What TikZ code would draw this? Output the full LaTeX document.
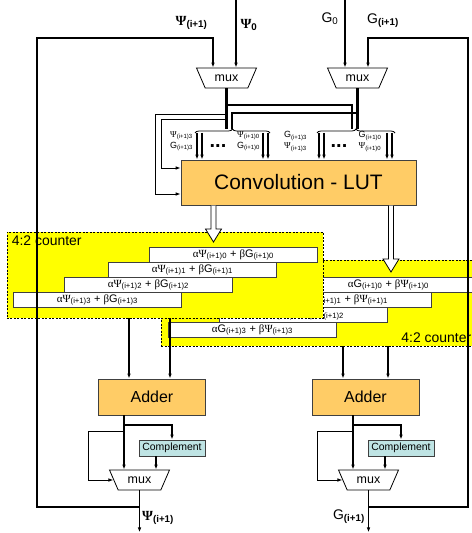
\documentclass[tikz,border=0pt]{standalone}
\usepackage{fontspec}
\setmainfont{Liberation Sans}
\newfontfamily\grk{Liberation Serif}
\usetikzlibrary{arrows.meta,shapes.geometric,decorations.pathreplacing}
\definecolor{lutorange}{HTML}{FFCC66}
\definecolor{cntyellow}{HTML}{FFFF00}
\definecolor{cmpteal}{HTML}{BFE4E4}
\definecolor{edgegray}{HTML}{404040}
\newcommand{\idx}[1]{\textsubscript{#1}}
\newcommand{\gPsi}{{\grk Ψ}}
\newcommand{\galpha}{{\grk α}}
\newcommand{\gbeta}{{\grk β}}
\newcommand{\psiterm}[1]{\galpha\gPsi\idx{(i+1)#1} + \gbeta G\idx{(i+1)#1}}
\newcommand{\gterm}[1]{\galpha G\idx{(i+1)#1} + \gbeta\gPsi\idx{(i+1)#1}}
\newcommand{\hollowarrow}[3]{\draw[fill=white, line width=0.8bp] ({#1-2.5},#2) -- ({#1-2.5},{#3-13}) -- ({#1-8},{#3-13}) -- (#1,#3) -- ({#1+8},{#3-13}) -- ({#1+2.5},{#3-13}) -- ({#1+2.5},#2);}
\newcommand{\outstage}[2]{%
	\node[adderbox] (#1add) at (#2,397) {Adder};
	\node[cmpbox] (#1cmp) at (172,448) {Complement};
	\node[muxbox] (#1outmux) at (139.5,480) {mux};
	\coordinate (#1tap) at (124,425);
	\coordinate (#1fb) at (88,431);
	\coordinate (#1cx) at (156,0);
	\coordinate (#1tee) at (139.5,507);
	\draw[wire,->] (#1add.south -| #1tap) -- (#1outmux.north -| #1tap);
	\draw[wire,->] (#1tap) -| (#1cmp.north);
	\draw[fb,->] (#1fb -| #1tap) -- (#1fb) |- (#1outmux.west);
	\draw[wire,->] (#1cmp.south -| #1cx) -- (#1outmux.north -| #1cx);
	\draw[wire,->] (#1outmux.south) -- ++(0,42) coordinate (#1end);
}
\tikzset{
	wire/.style={line width=1.1bp},
	fb/.style={line width=0.8bp},
	bus/.style={line width=2.6bp},
	box/.style={draw=edgegray, line width=0.8bp, inner sep=0pt},
	lutbox/.style={box, fill=lutorange, minimum width=235bp, minimum height=45bp, font=\fontsize{21}{24}\selectfont},
	adderbox/.style={box, fill=lutorange, minimum width=107bp, minimum height=36bp, font=\fontsize{16}{18}\selectfont},
	cmpbox/.style={box, fill=cmpteal, minimum width=66bp, minimum height=16bp, font=\fontsize{10.5}{12}\selectfont},
	muxbox/.style={trapezium, trapezium left angle=125, trapezium right angle=125, trapezium stretches=true, draw, line width=0.8bp, fill=white, minimum width=60bp, minimum height=20bp, inner sep=0pt, font=\fontsize{12.5}{14}\selectfont},
	cntbox/.style={draw, dashed, dash pattern=on 2bp off 1.5bp, line width=0.8bp, fill=cntyellow, minimum height=86bp},
	cntlabel/.style={inner sep=0pt, font=\fontsize{14}{16}\selectfont},
	termbox/.style={box, fill=white, minimum width=168bp, minimum height=15bp, font=\fontsize{11}{12}\selectfont},
	brlabel/.style={inner sep=0pt, align=center, font=\fontsize{9}{11}\selectfont},
	iolabel/.style={inner sep=0pt, font=\fontsize{14}{16}\selectfont},
	dotrow/.style={inner sep=0pt, font=\fontsize{20}{20}\bfseries},
	brc/.style={decorate, decoration={brace, amplitude=4bp}, line width=0.8bp}
}

\begin{document}
\begin{tikzpicture}[x=1bp, y=-1bp, >={Latex[length=5bp,width=3.6bp]}]
	\useasboundingbox (0,0) rectangle (472,533);

	% input multiplexers
	\node[muxbox] (psimux) at (226.5,78) {mux};
	\node[muxbox] (gmux) at (357.5,78) {mux};
	\node[iolabel] (psiin) at (191.5,23) {\textbf{\gPsi\idx{(i+1)}}};
	\node[iolabel] (psizero) at (249,25) {\textbf{\gPsi\idx{0}}};
	\node[iolabel] (gzero) at (330,19) {G\idx{0}};
	\node[iolabel] (gin) at (383,21) {G\idx{\textbf{(i+1)}}};
	\draw[wire,->] (236,0) -- (psimux.north -| 236,0);
	\draw[wire,->] (345,0) -- (gmux.north -| 345,0);

	% convolution LUT
	\node[lutbox] (lut) at (298.5,182.5) {Convolution - LUT};
	\coordinate (lbr) at (229,129);
	\coordinate (rbr) at (355,129);
	\draw[bus] (psimux.south) -- (psimux.south |- lbr);
	\draw[bus] (gmux.south) -- (gmux.south |- rbr);
	\draw[bus] (psimux.south |- 0,105) -| ([xshift=-3bp]rbr);
	\draw[bus] (gmux.south |- 0,113) -| ([xshift=3bp]lbr);
	\draw[fb,->] (psimux.south |- 0,114) -- (155,114) |- (lut.west |- 0,194);
	\draw[fb,->] (psimux.south |- 0,119) -- (161,119) |- (lut.west |- 0,168);
	\draw[brc] (195,133) -- (270,133);
	\draw[brc] (317,133) -- (395,133);
	\foreach \x in {197,202,263,268,319,324,387,392}
		\draw[wire,->] (\x,133) -- (lut.north -| \x,0);
	\node[brlabel] (lbla) at (181.5,141.5) {\gPsi\idx{(i+1)3}\\G\idx{(i+1)3}};
	\node[brlabel] (lblb) at (248.5,141.5) {\gPsi\idx{(i+1)0}\\G\idx{(i+1)0}};
	\node[brlabel] (rbla) at (295.5,141.5) {G\idx{(i+1)3}\\\gPsi\idx{(i+1)3}};
	\node[brlabel] (rblb) at (370,141.5) {G\idx{(i+1)0}\\\gPsi\idx{(i+1)0}};
	\node[dotrow] (ldots) at (218,146) {...};
	\node[dotrow] (rdots) at (339,146) {...};

	% 4:2 counters
	\node[cntbox, minimum width=317bp] (rcnt) at (319.5,303) {};
	\node[cntlabel, anchor=south east] (rcntlbl) at ([xshift=-7bp,yshift=4bp]rcnt.south east) {4:2 counter};
	\foreach \k/\dx in {0/0,1/41,2/85,3/136}
		\node[termbox, anchor=north west] (rrow\k) at ({304-\dx},{277+15*\k}) {\gterm{\k}};
	\node[cntbox, minimum width=316bp] (lcnt) at (165,275) {};
	\node[cntlabel, anchor=north west] (lcntlbl) at ([xshift=5bp,yshift=-4bp]lcnt.north west) {4:2 counter};
	\foreach \k/\dx in {0/0,1/41,2/85,3/136}
		\node[termbox, anchor=north west] (lrow\k) at ({149-\dx},{247+15*\k}) {\psiterm{\k}};
	\hollowarrow{213.5}{205.5}{242}
	\hollowarrow{391}{205.5}{272}

	% adders, complement and output multiplexers
	\outstage{l}{152}
	\begin{scope}[xshift=229bp]
		\outstage{r}{136.5}
	\end{scope}
	\draw[wire,->] (lcnt.south -| 129,0) -- (ladd.north -| 129,0);
	\draw[wire,->] (lcnt.south -| 170,0) -- (ladd.north -| 170,0);
	\draw[wire,->] (rcnt.south -| 343,0) -- (radd.north -| 343,0);
	\draw[wire,->] (rcnt.south -| 388,0) -- (radd.north -| 388,0);
	\node[iolabel, anchor=west] (psiout) at (142,518) {\textbf{\gPsi\idx{(i+1)}}};
	\node[iolabel, anchor=east] (gout) at (365,517) {G\idx{\textbf{(i+1)}}};

	% feedback loops
	\draw[wire,->] (ltee) -| (37,38) -| (psimux.north -| 213,0);
	\draw[wire,->] (rtee) -| (468,38) -| (gmux.north -| 368,0);
\end{tikzpicture}
\end{document}
